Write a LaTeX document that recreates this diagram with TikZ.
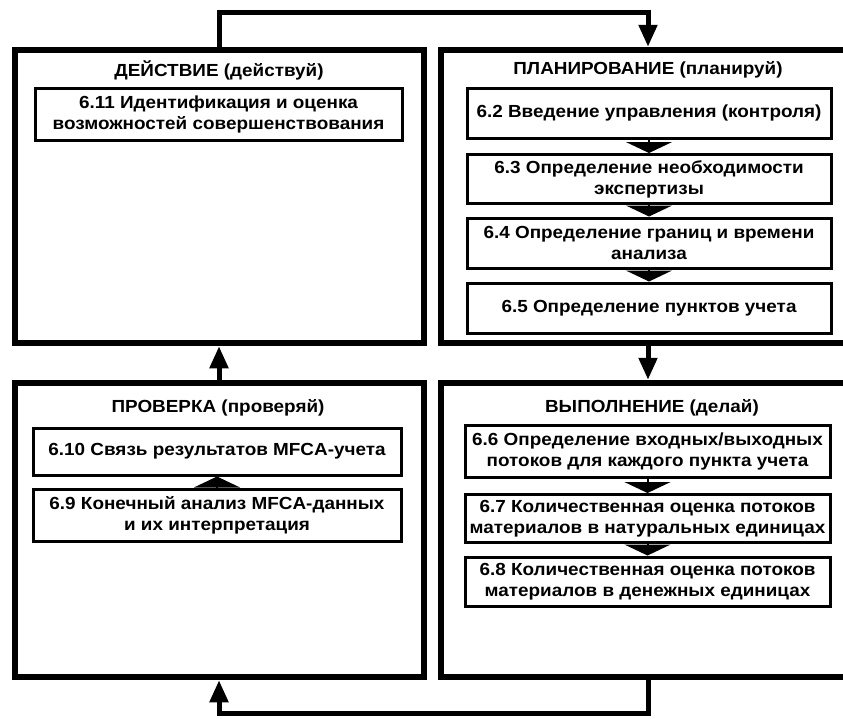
\documentclass[tikz,border=0pt]{standalone}
\usepackage{fontspec}
\setmainfont{Liberation Sans}[FakeStretch=1.08]
\usetikzlibrary{arrows.meta}
\begin{document}
\begin{tikzpicture}[x=1pt,y=-1pt,
  bigbox/.style={draw, line width=6.5pt, inner sep=0pt},
  subbox/.style={draw, line width=3pt, inner sep=0pt, align=center,
    font=\fontsize{17.5}{21}\selectfont\bfseries},
  hdr/.style={inner sep=0pt, font=\fontsize{17.5}{21}\selectfont\bfseries},
  loopline/.style={line width=5pt},
  bigarrow/.style={-{Triangle[width=18pt,length=22pt]}},
  gaparrow/.style={line width=2pt, -{Triangle[width=46pt,length=11pt]}}]
\useasboundingbox (0,0) rectangle (843,718);

% big boxes
\node[bigbox, minimum width=409pt, minimum height=293pt] (A) at (219.5,196.5) {};
\node[bigbox, minimum width=405pt, minimum height=293pt] (P) at (643.5,196.5) {};
\node[bigbox, minimum width=409pt, minimum height=294pt] (C) at (219.5,530) {};
\node[bigbox, minimum width=405pt, minimum height=294pt] (D) at (643.5,530) {};

% headers
\node[hdr] (hA) at (219,70) {ДЕЙСТВИЕ (действуй)};
\node[hdr] (hP) at (648,70) {ПЛАНИРОВАНИЕ (планируй)};
\node[hdr] (hC) at (218,408) {ПРОВЕРКА (проверяй)};
\node[hdr] (hD) at (652,408) {ВЫПОЛНЕНИЕ (делай)};

% ACT
\node[subbox, minimum width=367pt, minimum height=52pt] (s611) at (218.5,114)
  {6.11 Идентификация и оценка\\возможностей совершенствования};

% PLAN
\node[subbox, minimum width=364pt, minimum height=50pt] (s62) at (649,113)
  {6.2 Введение управления (контроля)};
\node[subbox, minimum width=364pt, minimum height=49pt] (s63) at (649,179)
  {6.3 Определение необходимости\\экспертизы};
\node[subbox, minimum width=364pt, minimum height=50pt] (s64) at (649,243)
  {6.4 Определение границ и времени\\анализа};
\node[subbox, minimum width=364pt, minimum height=50pt] (s65) at (649,308)
  {6.5 Определение пунктов учета};

% CHECK
\node[subbox, minimum width=368pt, minimum height=47pt] (s610) at (217,451.5)
  {6.10 Связь результатов MFCA-учета};
\node[subbox, minimum width=368pt, minimum height=52pt] (s69) at (217,515)
  {6.9 Конечный анализ MFCA-данных\\и их интерпретация};

% DO
\node[subbox, minimum width=365pt, minimum height=52pt] (s66) at (647.5,451)
  {6.6 Определение входных/выходных\\потоков для каждого пункта учета};
\node[subbox, minimum width=365pt, minimum height=48pt] (s67) at (647.5,518.5)
  {6.7 Количественная оценка потоков\\материалов в натуральных единицах};
\node[subbox, minimum width=365pt, minimum height=49pt] (s68) at (647.5,581.5)
  {6.8 Количественная оценка потоков\\материалов в денежных единицах};

% gap arrows
\draw[gaparrow] (s62.south) -- (s63.north);
\draw[gaparrow] (s63.south) -- (s64.north);
\draw[gaparrow] (s64.south) -- (s65.north);
\draw[gaparrow] (s66.south -| s67.north) -- (s67.north);
\draw[gaparrow] (s67.south) -- (s68.north);
\draw[gaparrow] (s69.north -| s610.south) -- (s610.south);

% loop connectors
\coordinate (xl) at (219,0);
\coordinate (xr) at (648,0);
\coordinate (ytop) at (0,12);
\coordinate (ybot) at (0,713);
\draw[loopline, bigarrow] (A.north -| xl) -- (xl |- ytop) -- (xr |- ytop) -- (P.north -| xr);
\draw[loopline, bigarrow] (P.south -| xr) -- (D.north -| xr);
\draw[loopline, bigarrow] (D.south -| xr) -- (xr |- ybot) -- (xl |- ybot) -- (C.south -| xl);
\draw[loopline, bigarrow] (C.north -| xl) -- (A.south -| xl);
\end{tikzpicture}
\end{document}
